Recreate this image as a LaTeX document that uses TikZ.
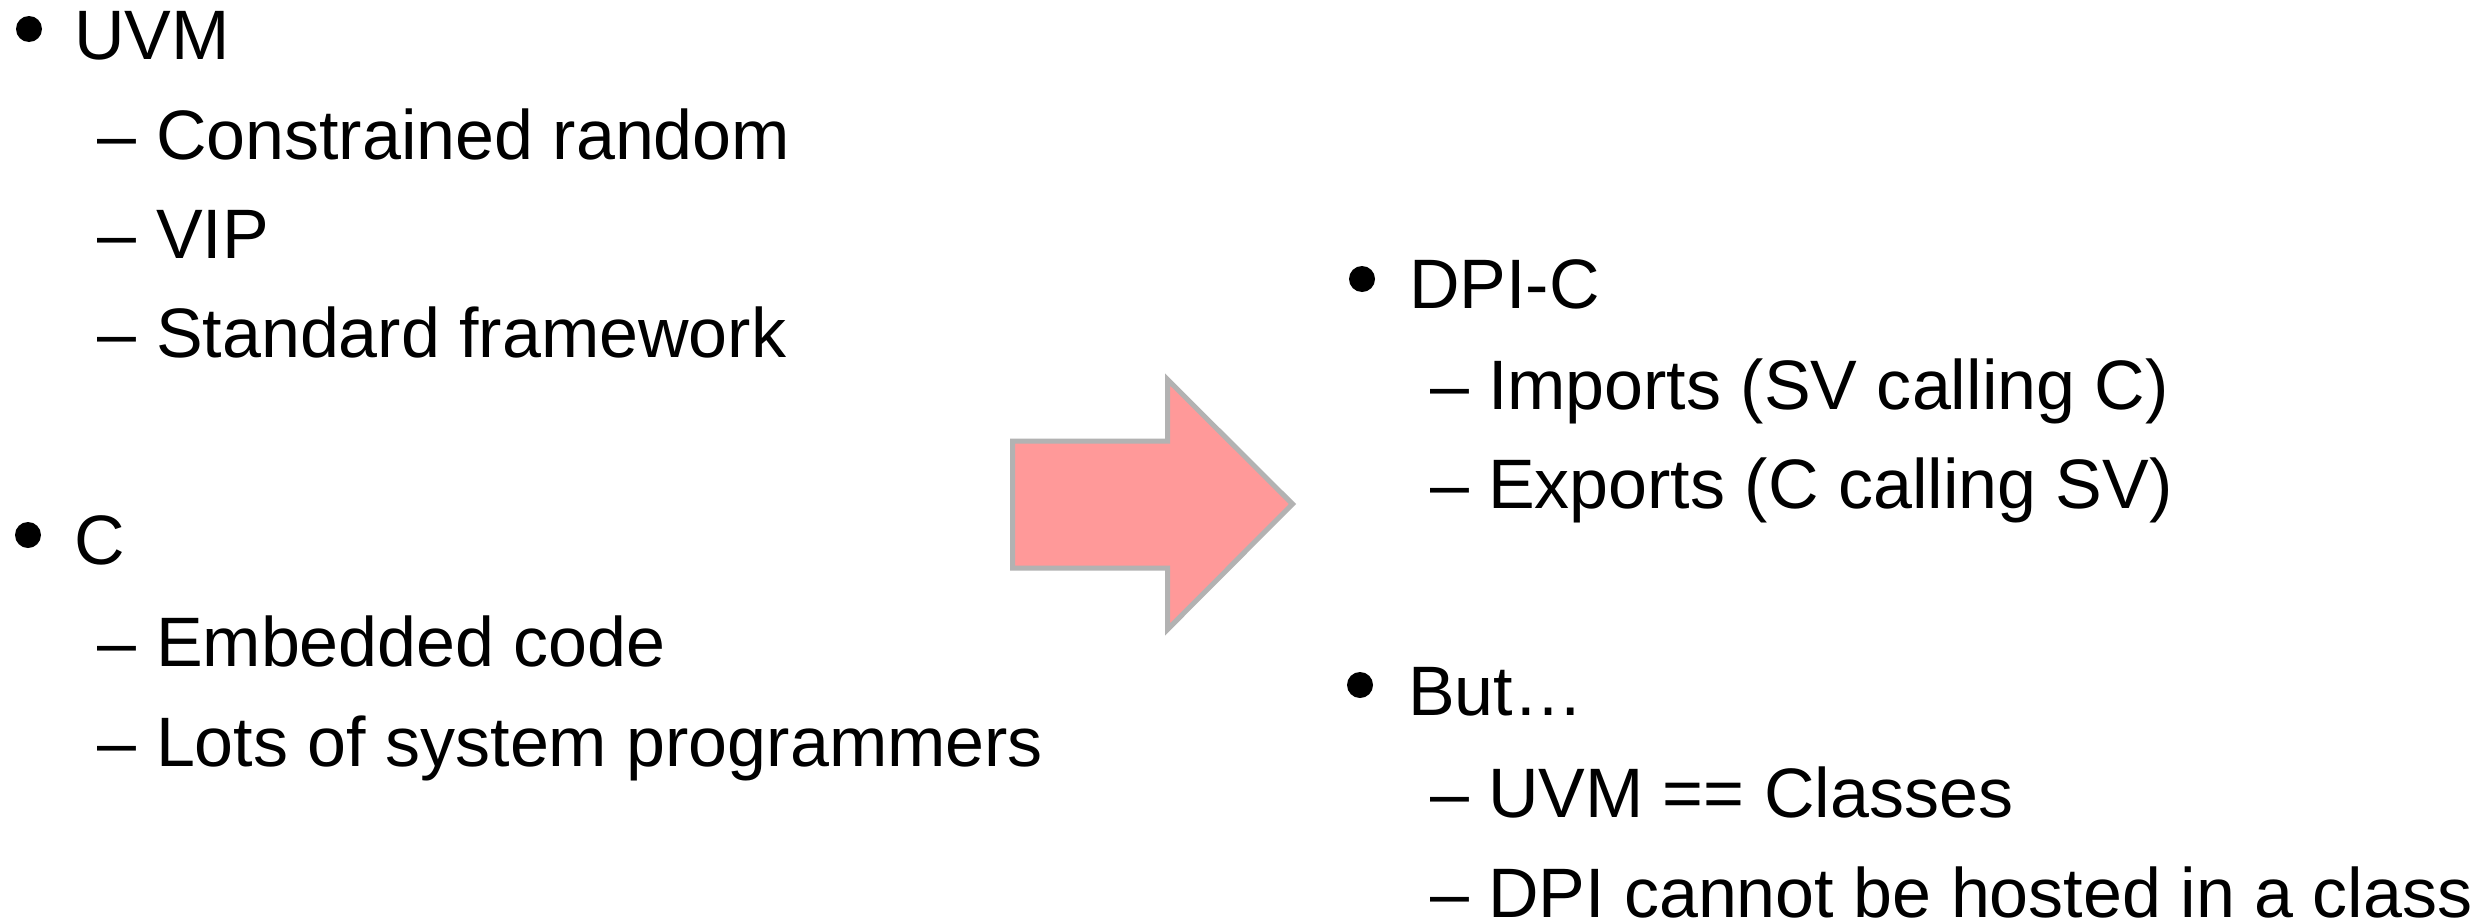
\documentclass[tikz,border=0pt]{standalone}
\usepackage{fontspec}
\setmainfont{Liberation Sans}
\definecolor{arrowfill}{HTML}{FF9999}
\definecolor{arrowline}{HTML}{B2B2B2}
\begin{document}
\begin{tikzpicture}[x=0.1mm,y=-0.1mm,
  txt/.style={anchor=base west,inner sep=0pt,outer sep=0pt,font=\fontsize{19.92pt}{24pt}\selectfont},
  bul/.style={circle,fill=black,inner sep=0pt,minimum size=2.6mm},
  bigarrow/.style={fill=arrowfill,draw=arrowline,line width=0.5mm,line join=miter}]
\path[use as bounding box,fill=white] (0,0) rectangle (2486,920);
% left column
\node[bul] (b1) at (29,29) {};
\node[txt] (t1) at (74,59) {UVM};
\node[txt] (d11) at (97,159) {–};
\node[txt] (t11) at (156,159) {Constrained random};
\node[txt] (d12) at (97,258) {–};
\node[txt] (t12) at (156,258) {VIP};
\node[txt] (d13) at (97,357) {–};
\node[txt] (t13) at (156,357) {Standard framework};
\node[bul] (b2) at (28,535) {};
\node[txt] (t2) at (74,564) {C};
\node[txt] (d21) at (97,666) {–};
\node[txt] (t21) at (156,666) {Embedded code};
\node[txt] (d22) at (97,766) {–};
\node[txt] (t22) at (156,766) {Lots of system programmers};
% arrow
\draw[bigarrow] (1012.5,441) -- (1167.5,441) -- (1167.5,379.5) -- (1292.5,504)
  -- (1167.5,629.5) -- (1167.5,568) -- (1012.5,568) -- cycle;
% right column
\node[bul] (b3) at (1362,279) {};
\node[txt] (t3) at (1409,308) {DPI-C};
\node[txt] (d31) at (1430,409) {–};
\node[txt] (t31) at (1488,409) {Imports (SV calling C)};
\node[txt] (d32) at (1430,508) {–};
\node[txt] (t32) at (1488,508) {Exports (C calling SV)};
\node[bul] (b4) at (1360,685) {};
\node[txt] (t4) at (1408,715) {But…};
\node[txt] (d41) at (1430,817) {–};
\node[txt] (t41) at (1488,817) {UVM == Classes};
\node[txt] (d42) at (1430,917) {–};
\node[txt] (t42) at (1488,917) {DPI cannot be hosted in a class};
\end{tikzpicture}
\end{document}
